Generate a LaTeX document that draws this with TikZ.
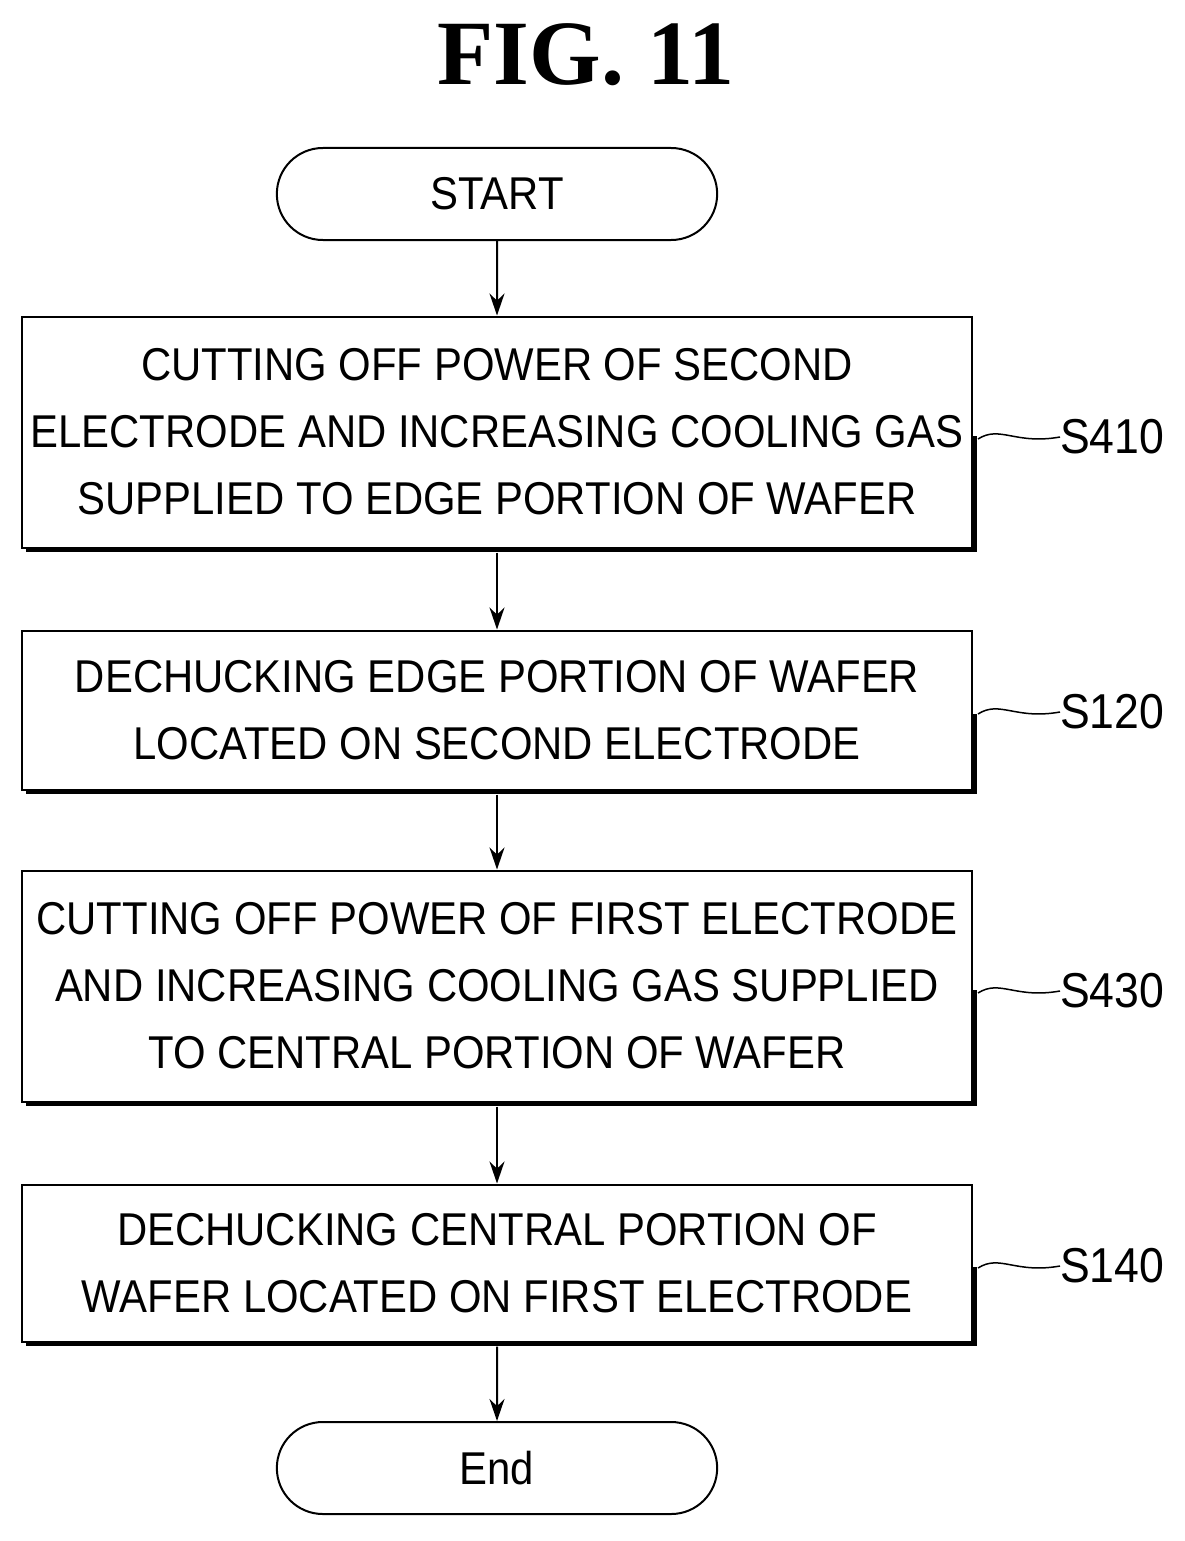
\documentclass[tikz,border=0pt]{standalone}
\usepackage{fontspec}
\setmainfont{Liberation Sans}
\newfontfamily\narrow[FakeStretch=0.91]{Liberation Sans}
\newfontfamily\titlefont{Liberation Serif}
\usetikzlibrary{shapes.misc,arrows.meta}
\begin{document}
\begin{tikzpicture}[x=1pt,y=-1pt,
  box/.style={draw,line width=2pt,fill=white,minimum width=950pt,align=center,font=\narrow\fontsize{46}{67}\selectfont,inner sep=0pt},
  term/.style={draw,line width=2pt,fill=white,rounded rectangle,minimum width=447pt,minimum height=92pt,font=\narrow\fontsize{46}{55}\selectfont},
  arr/.style={-{Stealth[length=22pt,width=15pt]},line width=2pt},
  lab/.style={font=\narrow\fontsize{49}{55}\selectfont,anchor=west,inner sep=0pt},
  sq/.style={line width=1.5pt}]
\useasboundingbox (0,0) rectangle (1185,1541);
\node[font=\titlefont\bfseries\fontsize{92}{92}\selectfont] at (586,55) {FIG. 11};
\foreach \y/\h in {432/231,710/159,986/231,1263/157}{
  \fill (26,\y+4) rectangle (977,\y+\h/2+4);}
\node[term] (st) at (497,194) {START};
\node[box,minimum height=231pt] (b1) at (497,432) {CUTTING OFF POWER OF SECOND\\ELECTRODE AND INCREASING COOLING GAS\\SUPPLIED TO EDGE PORTION OF WAFER};
\node[box,minimum height=159pt] (b2) at (497,710) {DECHUCKING EDGE PORTION OF WAFER\\LOCATED ON SECOND ELECTRODE};
\node[box,minimum height=231pt] (b3) at (497,986) {CUTTING OFF POWER OF FIRST ELECTRODE\\AND INCREASING COOLING GAS SUPPLIED\\TO CENTRAL PORTION OF WAFER};
\node[box,minimum height=157pt] (b4) at (497,1263) {DECHUCKING CENTRAL PORTION OF\\WAFER LOCATED ON FIRST ELECTRODE};
\node[term] (en) at (497,1468) {End};
\draw[arr] (st) -- (b1);
\draw[arr] (b1.south) ++(0,4) -- (b2);
\draw[arr] (b2.south) ++(0,4) -- (b3);
\draw[arr] (b3.south) ++(0,4) -- (b4);
\draw[arr] (b4.south) ++(0,4) -- (en);
\foreach \n/\t/\y in {l1/S410/437,l2/S120/712,l3/S430/991,l4/S140/1266}{
  \node[lab] (\n) at (1060,\y) {\t};
  \draw[sq] (978,\y+2) .. controls (1000,\y-12) and (1015,\y+8) .. (\n.west);}
\end{tikzpicture}
\end{document}
